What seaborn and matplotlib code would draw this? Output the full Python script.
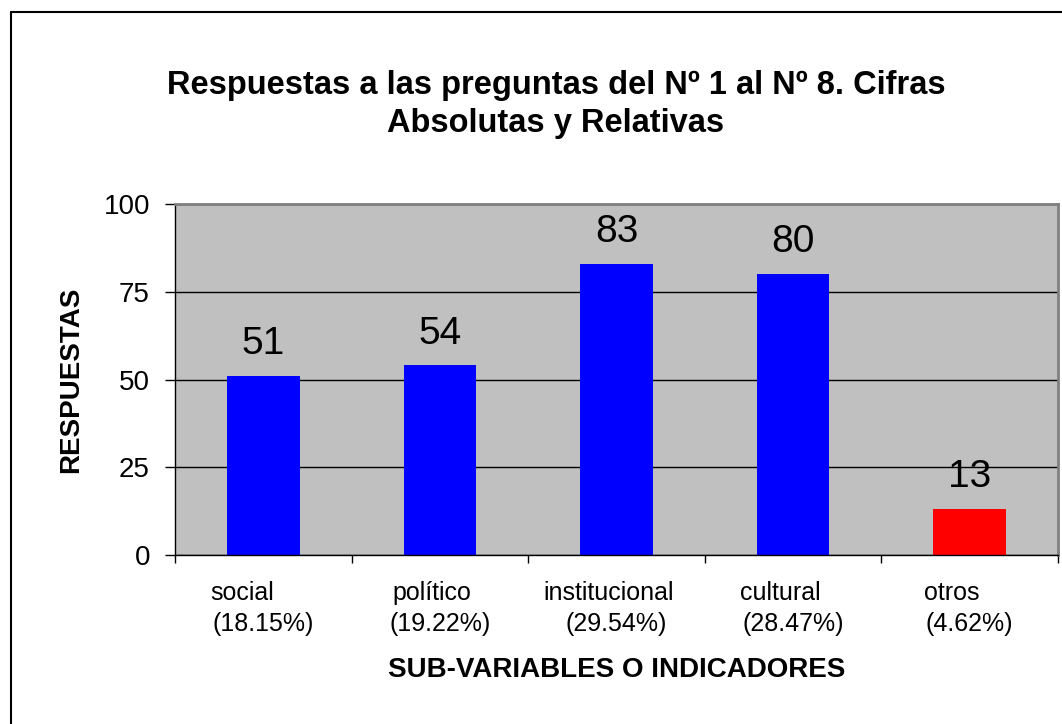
import matplotlib
matplotlib.use('Agg')
import matplotlib.pyplot as plt
import seaborn as sns
from matplotlib.lines import Line2D

categories = ['social', 'político', 'institucional', 'cultural', 'otros']
percentages = ['(18.15%)', '(19.22%)', '(29.54%)', '(28.47%)', '(4.62%)']
respuestas = [51, 54, 83, 80, 13]
bar_colors = ['#0000FF', '#0000FF', '#0000FF', '#0000FF', '#FF0000']
yticks = [0, 25, 50, 75, 100]

# small sideways shift (points) of the first line of each category label
name_shift = [-15, -6, -6, -9, -13]

sns.set_theme(style='white')
plt.rcParams['font.family'] = ['Liberation Sans', 'DejaVu Sans']
plt.rcParams['text.color'] = 'black'
plt.rcParams['axes.labelcolor'] = 'black'
plt.rcParams['xtick.color'] = 'black'
plt.rcParams['ytick.color'] = 'black'

fig = plt.figure(figsize=(10.62, 7.24), dpi=100)
ax = fig.add_axes([175 / 1062, 1 - 555 / 724, 883 / 1062, 351 / 724])

sns.barplot(x=categories, y=respuestas, hue=categories, palette=bar_colors,
            legend=False, width=0.41, saturation=1, linewidth=0, ax=ax, zorder=3)

ax.set_facecolor('#C0C0C0')
ax.set_xlim(-0.5, len(categories) - 0.5)
ax.set_ylim(0, 100)
ax.set_yticks(yticks)
ax.yaxis.grid(True, color='black', linewidth=1)
ax.set_axisbelow(True)

for side in ['top', 'right']:
    ax.spines[side].set_color('#808080')
    ax.spines[side].set_linewidth(2)
for side in ['left', 'bottom']:
    ax.spines[side].set_color('black')
    ax.spines[side].set_linewidth(1)
ax.spines['bottom'].set_zorder(4)

ax.tick_params(axis='y', direction='out', length=7, width=1,
               pad=11, labelsize=20, left=True)
# category boundaries carry the x tick marks
ax.set_xticks([i - 0.5 for i in range(len(categories) + 1)])
ax.set_xticklabels([])
ax.tick_params(axis='x', direction='out', length=6, width=1, bottom=True)

for i, (name, pct) in enumerate(zip(categories, percentages)):
    ax.annotate(name, xy=(i, 0), xycoords=('data', 'axes fraction'),
                xytext=(name_shift[i], -32.5), textcoords='offset points',
                ha='center', va='baseline', fontsize=18)
    ax.annotate(pct, xy=(i, 0), xycoords=('data', 'axes fraction'),
                xytext=(0, -55), textcoords='offset points',
                ha='center', va='baseline', fontsize=18)

for container in ax.containers:
    ax.bar_label(container, padding=10, fontsize=28)

ax.set_xlabel('SUB-VARIABLES O INDICADORES', fontsize=20, fontweight='bold')
ax.xaxis.set_label_coords(0.5, -(677 - 555) / 351)
ax.xaxis.label.set_va('baseline')
ax.set_ylabel('RESPUESTAS', fontsize=20, fontweight='bold', labelpad=14)

fig.text(556 / 1062, 1 - 132 / 724,
         'Respuestas a las preguntas del Nº 1 al Nº 8. Cifras\nAbsolutas y Relativas',
         ha='center', va='baseline', fontsize=23.5, fontweight='bold', linespacing=1.3)

# outer chart frame
fig.add_artist(Line2D([11 / 1062, 1], [1 - 12 / 724, 1 - 12 / 724],
                      transform=fig.transFigure, color='black', linewidth=1.5))
fig.add_artist(Line2D([11 / 1062, 11 / 1062], [0, 1 - 12 / 724],
                      transform=fig.transFigure, color='black', linewidth=1.5))

fig.savefig('out.png', dpi=100, facecolor='white')
